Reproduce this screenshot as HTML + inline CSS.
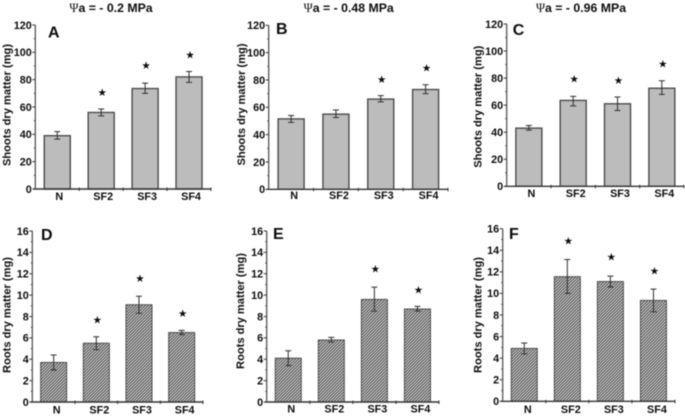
<!DOCTYPE html>
<html>
<head>
<meta charset="utf-8">
<style>
html,body{margin:0;padding:0;background:#fff;width:685px;height:417px;overflow:hidden}
svg{display:block;filter:blur(0.45px)}
text{font-family:"Liberation Sans",sans-serif;font-weight:bold;fill:#0c0c0c}
</style>
</head>
<body>
<svg id="fig" xmlns="http://www.w3.org/2000/svg" width="685" height="417" viewBox="0 0 685 417">
<defs>
<pattern id="hatch" patternUnits="userSpaceOnUse" width="2.1213" height="2.1213" patternTransform="rotate(45)">
<rect width="2.1213" height="2.1213" fill="#d6d6d6"></rect>
<rect width="0.95" height="2.1213" fill="#3a3a3a"></rect>
</pattern>
</defs>
</svg>
<script>
const categories = ['N', 'SF2', 'SF3', 'SF4'];
const shootTicks = [0, 20, 40, 60, 80, 100, 120];
const rootTicks = [0, 2, 4, 6, 8, 10, 12, 14, 16];

const valuesA = [39, 56, 73.5, 82];
const lowA = [36.5, 53.5, 70, 78];
const highA = [42, 58.5, 77.5, 86];
const starsA = [null, 71, 90.5, 98.5];

const valuesB = [51.5, 55, 66, 73];
const lowB = [49, 52.5, 64, 70];
const highB = [54, 58, 68.5, 76.5];
const starsB = [null, null, 80.7, 89];

const valuesC = [43, 63.5, 61, 72.5];
const lowC = [41.5, 59.5, 56, 68];
const highC = [45, 66.5, 66, 78];
const starsC = [null, 79.6, 78.4, 90.6];

const valuesD = [3.7, 5.5, 9.1, 6.5];
const lowD = [3, 4.9, 8.3, 6.3];
const highD = [4.4, 6.1, 9.9, 6.7];
const starsD = [null, 7.7, 11.6, 8.3];

const valuesE = [4.1, 5.8, 9.6, 8.7];
const lowE = [3.4, 5.6, 8.5, 8.5];
const highE = [4.8, 6.05, 10.75, 8.95];
const starsE = [null, null, 12.5, 10.5];

const valuesF = [4.9, 11.55, 11.1, 9.35];
const lowF = [4.4, 10, 10.6, 8.3];
const highF = [5.4, 13.15, 11.6, 10.4];
const starsF = [null, 14.9, 13.4, 12.1];

const shootTitle = 'Shoots dry matter (mg)';
const rootTitle = 'Roots dry matter (mg)';

const svg = document.getElementById('fig');
const NS = 'http://www.w3.org/2000/svg';
const INK = '#333333';

function make(tag, attrs, text) {
  const el = document.createElementNS(NS, tag);
  for (const k in attrs) el.setAttribute(k, attrs[k]);
  if (text !== undefined) el.textContent = text;
  return el;
}

function drawPanel(p) {
  const g = make('g', {});
  
  
  svg.appendChild(g);

  const yMax = p.ticks[p.ticks.length - 1];
  const yScale = v => p.y0 - (v / yMax) * (p.y0 - p.yTop);
  const band = (p.xEnd - p.x0) / categories.length;
  const xScale = i => p.x0 + band * (i + 0.5);

  p.values.forEach((v, i) => {
    const bar = make('rect', {
      x: xScale(i) - 13, y: yScale(v), width: 26, height: p.y0 - yScale(v),
      fill: p.fill, stroke: '#4c4c4c', 'stroke-width': p.hatched ? 1 : 1.4
    });
    
    
    g.appendChild(bar);

    const eb = make('path', {
      d: 'M' + (xScale(i) - 3) + ' ' + yScale(p.high[i]) + 'h6M' + xScale(i) + ' ' + yScale(p.high[i]) +
         'V' + yScale(p.low[i]) + 'M' + (xScale(i) - 3) + ' ' + yScale(p.low[i]) + 'h6',
      fill: 'none', stroke: '#2e2e2e', 'stroke-width': 1
    });
    
    
    g.appendChild(eb);

    if (p.stars[i] !== null) {
      const star = make('text', {
        x: xScale(i) + 1, y: yScale(p.stars[i]) + 3.9, 'text-anchor': 'middle', 'font-size': 10.5,
        style: 'font-family:"DejaVu Sans",sans-serif;font-weight:normal'
      }, '★');
      
      
      g.appendChild(star);
    }

    const label = make('text', {
      x: xScale(i) + p.labelDx, y: p.labelY, 'text-anchor': 'middle', 'font-size': 10.8
    }, categories[i]);
    
    
    g.appendChild(label);
  });

  const xAxis = make('line', { x1: p.x0 - 2, x2: p.xEnd, y1: p.y0, y2: p.y0, stroke: INK, 'stroke-width': 1.4 });
  
  
  g.appendChild(xAxis);
  categories.forEach((c, i) => {
    const tx = p.x0 + band * (i + 1);
    g.appendChild(make('line', { x1: tx, x2: tx, y1: p.y0 - 1.5, y2: p.y0 + 2, stroke: INK, 'stroke-width': 1 }));
  });

  const yAxis = make('line', { x1: p.x0, x2: p.x0, y1: p.yTop, y2: p.y0, stroke: '#555555', 'stroke-width': 1.3 });
  
  
  g.appendChild(yAxis);

  p.ticks.forEach((t, i) => {
    const ty = yScale(t);
    g.appendChild(make('line', { x1: p.x0 - 3, x2: p.x0, y1: ty, y2: ty, stroke: INK, 'stroke-width': 1 }));
    if (i < p.ticks.length - 1) {
      const my = yScale((t + p.ticks[i + 1]) / 2);
      g.appendChild(make('line', { x1: p.x0 - 1.5, x2: p.x0, y1: my, y2: my, stroke: INK, 'stroke-width': 0.8 }));
    }
    const tl = make('text', {
      x: p.x0 - 3.5, y: ty + 3.8, 'text-anchor': 'end', 'font-size': 10.8
    }, String(t));
    
    
    g.appendChild(tl);
  });

  const yt = make('text', {
    x: 0, y: 0, 'text-anchor': 'middle', 'font-size': 11.1,
    transform: 'translate(' + p.titleX + ' ' + p.titleY + ') rotate(-90)'
  }, p.yTitle);
  
  
  g.appendChild(yt);

  const letter = make('text', { x: p.letterX, y: p.letterY, 'font-size': 16 }, p.letter);
  
  
  g.appendChild(letter);

  if (p.heading) {
    const h = make('text', { x: p.headingX, y: 12, 'text-anchor': 'middle', 'font-size': 12.3 });
    const psi = make('tspan', { style: 'font-family:"Liberation Serif",serif;font-weight:normal' }, 'Ψ');
    h.appendChild(psi);
    h.appendChild(make('tspan', {}, 'a = - ' + p.heading + ' MPa'));
    
    
    g.appendChild(h);
  }
}

drawPanel({ letter: 'A', x0: 35.3, xEnd: 211, y0: 189, yTop: 25, ticks: shootTicks, values: valuesA, low: lowA, high: highA, stars: starsA, fill: '#bcbcbc', hatched: false, yTitle: shootTitle, titleX: 10.5, titleY: 105, letterX: 48, letterY: 37.5, labelY: 200, labelDx: 2, heading: '0.2', headingX: 111 });
drawPanel({ letter: 'B', x0: 268.7, xEnd: 448, y0: 189.3, yTop: 25.3, ticks: shootTicks, values: valuesB, low: lowB, high: highB, stars: starsB, fill: '#bcbcbc', hatched: false, yTitle: shootTitle, titleX: 245, titleY: 104.5, letterX: 276, letterY: 34, labelY: 199, labelDx: 3, heading: '0.48', headingX: 348.7 });
drawPanel({ letter: 'C', x0: 506.7, xEnd: 684, y0: 186.3, yTop: 24, ticks: shootTicks, values: valuesC, low: lowC, high: highC, stars: starsC, fill: '#bcbcbc', hatched: false, yTitle: shootTitle, titleX: 481.7, titleY: 106.7, letterX: 512.7, letterY: 35, labelY: 197, labelDx: 2.5, heading: '0.96', headingX: 581 });
drawPanel({ letter: 'D', x0: 32.3, xEnd: 203, y0: 402, yTop: 231, ticks: rootTicks, values: valuesD, low: lowD, high: highD, stars: starsD, fill: 'url(#hatch)', hatched: true, yTitle: rootTitle, titleX: 10.5, titleY: 315, letterX: 41, letterY: 240, labelY: 413.7, labelDx: 3, heading: null });
drawPanel({ letter: 'E', x0: 266.7, xEnd: 439, y0: 402, yTop: 231, ticks: rootTicks, values: valuesE, low: lowE, high: highE, stars: starsE, fill: 'url(#hatch)', hatched: true, yTitle: rootTitle, titleX: 244, titleY: 311, letterX: 273, letterY: 239, labelY: 412.7, labelDx: 3, heading: null });
drawPanel({ letter: 'F', x0: 502.7, xEnd: 675, y0: 401.3, yTop: 228.7, ticks: rootTicks, values: valuesF, low: lowF, high: highF, stars: starsF, fill: 'url(#hatch)', hatched: true, yTitle: rootTitle, titleX: 481.7, titleY: 315, letterX: 509, letterY: 239, labelY: 413, labelDx: 3.5, heading: null });
</script>
</body>
</html>
